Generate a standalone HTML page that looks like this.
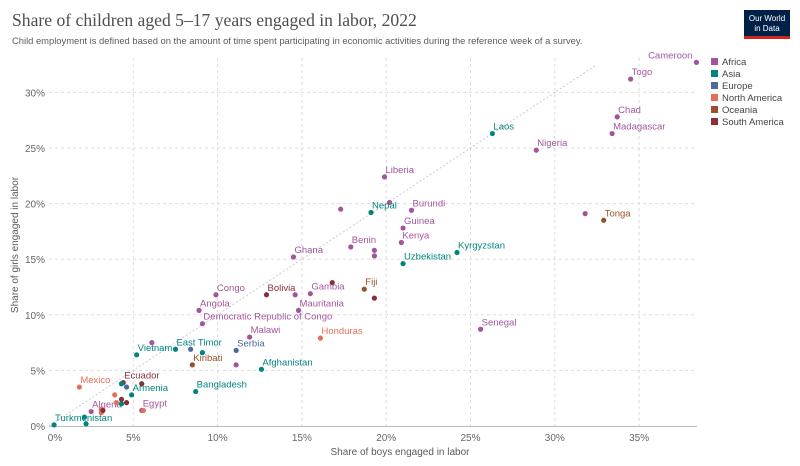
<!DOCTYPE html>
<html><head><meta charset="utf-8">
<style>
body{margin:0;background:#fff;font-family:"Liberation Sans",sans-serif;}
#wrap{position:relative;width:800px;height:466px;overflow:hidden;}
</style></head>
<body>
<div id="wrap">
<svg id="chart" width="800" height="466" xmlns="http://www.w3.org/2000/svg">
<text x="12" y="26" font-family="Liberation Serif,serif" font-size="17.6" fill="#4e4e4e">Share of children aged 5–17 years engaged in labor, 2022</text>
<text x="12" y="44" font-size="9.4" fill="#5b5b5b">Child employment is defined based on the amount of time spent participating in economic activities during the reference week of a survey.</text>
<g>
<rect x="744" y="10" width="46" height="28" fill="#002147"/>
<rect x="744" y="36" width="46" height="3" fill="#ce261e"/>
<text x="767" y="21" font-size="8" fill="#fff" text-anchor="middle">Our World</text>
<text x="767" y="31" font-size="8" fill="#fff" text-anchor="middle">in Data</text>
</g>
<g id="grid"></g><g id="marks"></g><g id="legend"></g>
<text x="400" y="455" font-size="10" fill="#5b5b5b" text-anchor="middle">Share of boys engaged in labor</text>
<text transform="translate(18,245) rotate(-90)" font-size="10" fill="#5b5b5b" text-anchor="middle">Share of girls engaged in labor</text>
</svg></div>
<script>
const regions=["Africa","Asia","Europe","North America","Oceania","South America"];
const regionColors=["#a2559c","#00847e","#4c6a9c","#e56e5a","#9a5129","#883039"];
const countries=["Turkmenistan","","","Algeria","","","","Mexico","Ecuador","","","","","Armenia","","","","","Egypt","","Bangladesh","Kiribati","","Afghanistan","Vietnam","","East Timor","","","Serbia","Malawi","Democratic Republic of Congo","Angola","Congo","Bolivia","","Gambia","","Mauritania","Honduras","Fiji","","Ghana","Benin","","","Uzbekistan","Kenya","Guinea","Burundi","Nepal","","","Liberia","Kyrgyzstan","","Tonga","Nigeria","Laos","Madagascar","Chad","Togo","Cameroon","Senegal"];
const region=[1,1,1,0,3,3,5,3,5,1,2,5,3,1,5,3,1,5,0,3,1,4,0,1,1,0,1,2,1,2,0,0,0,0,5,0,0,5,0,3,4,5,0,0,0,0,1,0,0,0,1,0,0,0,1,0,4,0,1,0,0,0,0,0];
const boys=[0.3,2.2,2.1,2.5,3.1,3.1,3.2,1.8,4.4,4.3,4.6,5.5,3.9,4.9,4.3,4.0,4.3,4.6,5.5,5.6,8.7,8.5,11.1,12.6,5.2,6.1,7.5,8.4,9.1,11.1,11.9,9.1,8.9,9.9,12.9,14.6,15.5,16.8,14.8,16.1,18.7,19.3,14.5,17.9,19.3,19.3,21.0,20.9,21.0,21.5,19.1,17.3,20.2,19.9,24.2,31.8,32.9,28.9,26.3,33.4,33.7,34.5,38.4,25.6];
const girls=[0.1,0.2,0.8,1.3,1.5,1.2,1.4,3.5,3.9,3.8,3.5,3.8,2.8,2.8,2.4,2.1,2.0,2.1,1.4,1.4,3.1,5.5,5.5,5.1,6.4,7.5,6.9,6.9,6.6,6.8,8.0,9.2,10.4,11.8,11.8,11.8,11.9,12.9,10.4,7.9,12.3,11.5,15.2,16.1,15.8,15.3,14.6,16.5,17.8,19.4,19.2,19.5,20.1,22.4,15.6,19.1,18.5,24.8,26.3,26.3,27.8,31.2,32.7,8.7];
const xTicks=[0,5,10,15,20,25,30,35];
const yTicks=[0,5,10,15,20,25,30];
const NS="http://www.w3.org/2000/svg";
const X0=49,XS=16.86,Y0=426,YS=11.12,XMAX=697,YTOP=58;
const xs=v=>X0+v*XS, ys=v=>Y0-v*YS;
function mk(tag,attrs,parent){const e=document.createElementNS(NS,tag);for(const k in attrs)e.setAttribute(k,attrs[k]);parent.appendChild(e);return e;}
const grid=document.getElementById('grid');
xTicks.forEach(t=>{
  if(t>0){const l=mk('line',{x1:xs(t),x2:xs(t),y1:YTOP,y2:Y0,stroke:'#ddd','stroke-dasharray':'3,3'},grid);
  
  }
  const tx=mk('text',{x:t===0?xs(t)+6:xs(t),y:441,'font-size':10,fill:'#666','text-anchor':'middle'},grid);tx.textContent=t+'%';
  
  
});
yTicks.forEach(t=>{
  if(t>0){const l=mk('line',{x1:X0,x2:XMAX,y1:ys(t),y2:ys(t),stroke:'#ddd','stroke-dasharray':'3,3'},grid);
  
  }
  const tx=mk('text',{x:45,y:ys(t)+4,'font-size':10,fill:'#666','text-anchor':'end'},grid);tx.textContent=t+'%';
  
  
});
const ax=mk('line',{x1:X0,x2:XMAX,y1:Y0+0.5,y2:Y0+0.5,stroke:'#bbb'},grid);


const dg=mk('line',{x1:xs(0),y1:ys(0),x2:xs(32.4),y2:ys(32.4),stroke:'#ccc','stroke-dasharray':'2,2'},grid);


const marks=document.getElementById('marks');
boys.forEach((b,i)=>{
  const c=regionColors[region[i]];
  const d=mk('circle',{cx:xs(b),cy:ys(girls[i]),r:2.6,fill:c},marks);
  
  
  if(countries[i]){
    const left=countries[i]==='Cameroon';
    const t=mk('text',{x:left?xs(b)-4:xs(b)+1,y:ys(girls[i])-4,'font-size':9.5,fill:c,'text-anchor':left?'end':'start'},marks);
    t.textContent=countries[i];
    
    
  }
});
const lg=document.getElementById('legend');
regions.forEach((r,i)=>{
  const s=mk('rect',{x:711,y:58+i*12,width:7,height:7,fill:regionColors[i]},lg);
  
  
  const t=mk('text',{x:722,y:65+i*12,'font-size':9.5,fill:'#444'},lg);t.textContent=r;
  
  
});
</script>
</body></html>
